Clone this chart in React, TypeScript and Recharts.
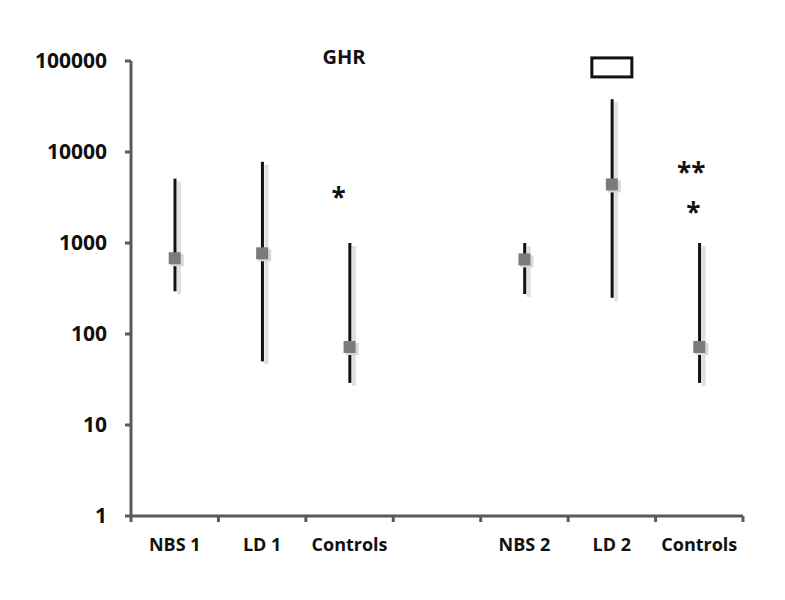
import React from 'react'
import { ComposedChart, XAxis, YAxis, Bar, Line, ReferenceDot, Customized } from 'recharts';

// groups (the 4th slot is the empty gap between the two panels)
const keys = ['NBS 1', 'LD 1', 'Controls 1', 'gap', 'NBS 2', 'LD 2', 'Controls 2'];
const labels = ['NBS 1', 'LD 1', 'Controls', '', 'NBS 2', 'LD 2', 'Controls'];
const medians = [680, 770, 72, null, 660, 4400, 72];
const lows = [295, 50, 29, null, 275, 250, 29];
const highs = [5100, 7800, 1000, null, 1000, 38000, 1000];
const yTicks = [1, 10, 100, 1000, 10000, 100000];

const data = keys.map((k, i) => ({
    key: k,
    median: medians[i],
    range: lows[i] == null ? null : [lows[i], highs[i]],
}));

const FONT = '"Open Sans", sans-serif';
const AXIS = '#5a5a5a';

const RangeLine = (props: any) => {
    const { x, y, width, height } = props;
    if (height == null || isNaN(height)) return null;
    const cx = x + width / 2;
    return (
        <g>
            <rect x={cx + 2} y={y + 3} width={4} height={height} fill="#e0e0e0" />
            <rect x={cx - 1.5} y={y} width={3} height={height} fill="#111" />
        </g>
    );
}

const Square = (props: any) => {
    const { cx, cy } = props;
    if (cx == null || cy == null || props.value == null) return null;
    return (
        <g>
            <rect x={cx - 4} y={cy - 4} width={13} height={12} fill="#d8d8d8" />
            <rect x={cx - 6} y={cy - 6} width={12} height={12} fill="#7b7b7b" />
        </g>
    );
}

// category label plus boundary tick marks (ticks sit between the groups)
const CatTick = (props: any) => {
    const { x, y, payload, index } = props;
    const off = payload.offset || 0;
    const last = index === keys.length - 1;
    return (
        <g>
            <line x1={x - off} x2={x - off} y1={y} y2={y + 6} stroke={AXIS} strokeWidth={3} />
            {last && <line x1={x + off} x2={x + off} y1={y} y2={y + 6} stroke={AXIS} strokeWidth={3} />}
            <text x={x} y={y + 35} textAnchor="middle" fontFamily={FONT} fontWeight="bold" fontSize={18} fill="#111">{labels[index]}</text>
        </g>
    );
}

const Star = (txt: string, dx: number) => (p: any) => (
    <text x={p.cx + dx} y={p.cy + 12} textAnchor="middle" fontFamily={FONT} fontWeight="bold" fontSize={26} fill="#111">{txt}</text>
);

const Box = (p: any) => (
    <rect x={p.cx - 20} y={p.cy - 9.5} width={40} height={19} fill="none" stroke="#111" strokeWidth={3} />
);

const App = () => {
    return (<div style={{ position: 'relative', margin: '-8px 0 0 -8px', width: 785, height: 600, background: '#fff' }}>
        <ComposedChart width={785} height={600} data={data} margin={{ top: 61, right: 42, bottom: 44, left: 0 }}>
            <XAxis dataKey="key" height={40} interval={0}
                axisLine={{ stroke: AXIS, strokeWidth: 3 }}
                tickLine={false} tickSize={0} tickMargin={0}
                tick={CatTick} />
            <YAxis scale="log" domain={[1, 100000]} ticks={yTicks} allowDataOverflow width={131}
                axisLine={{ stroke: AXIS, strokeWidth: 3 }}
                tickLine={{ stroke: AXIS, strokeWidth: 3 }} tickSize={6} tickMargin={18}
                tick={{ fill: '#111', fontFamily: FONT, fontWeight: 'bold', fontSize: 21 }} />
            <Bar dataKey="range" barSize={10} shape={RangeLine} isAnimationActive={false} />
            <Line dataKey="median" stroke="none" dot={Square} activeDot={false} isAnimationActive={false} />
            <ReferenceDot x="Controls 1" y={3400} r={0} shape={Star('*', -11)} />
            <ReferenceDot x="Controls 2" y={6400} r={0} shape={Star('**', -8)} />
            <ReferenceDot x="Controls 2" y={2300} r={0} shape={Star('*', -6)} />
            <ReferenceDot x="LD 2" y={85000} r={0} shape={Box} />
            <Customized component={() => (
                <text x={344} y={64} textAnchor="middle" fontFamily={FONT} fontWeight="bold" fontSize={20} fill="#111">GHR</text>
            )} />
        </ComposedChart>
    </div>);
}

export default App;
